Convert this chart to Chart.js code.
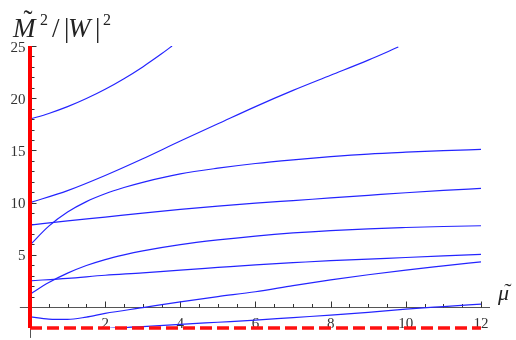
<!DOCTYPE html>
<html>
<head>
<meta charset="utf-8">
<script src="https://cdn.jsdelivr.net/npm/chart.js@4/dist/chart.umd.min.js"></script>
<style>
  html, body { margin: 0; padding: 0; background: #fff; }
  #wrap { width: 516px; height: 340px; position: relative; }
</style>
</head>
<body>
<div id="wrap"><canvas id="c"></canvas></div>
<script>
// Mass branches M~^2/|W|^2 as functions of mu~
const branch1X = [0, 0.5, 1, 1.5, 2, 2.5, 3, 3.5, 3.78];
const branch1Y = [18.0, 18.54, 19.19, 19.97, 20.86, 21.87, 23.0, 24.25, 25.0];

const branch2X = [0, 1, 2, 3, 4, 5, 6, 7, 8, 9, 9.8];
const branch2Y = [10.0, 11.15, 12.6, 14.2, 15.9, 17.55, 19.2, 20.75, 22.2, 23.65, 24.9];

const branch3X = [0, 0.5, 1, 1.5, 2, 2.5, 3, 4, 5, 6, 7, 8, 9, 10, 11, 12];
const branch3Y = [5.94, 7.75, 9.1, 10.1, 10.85, 11.45, 11.95, 12.75, 13.3, 13.75, 14.1, 14.4, 14.65, 14.83, 14.98, 15.1];

const branch4X = [0, 1, 2, 3, 4, 5, 6, 7, 8, 9, 10, 11, 12];
const branch4Y = [7.85, 8.25, 8.62, 9.0, 9.35, 9.67, 9.95, 10.2, 10.45, 10.7, 10.95, 11.17, 11.37];

const branch5X = [0, 0.5, 1, 1.5, 2, 2.5, 3, 4, 5, 6, 7, 8, 9, 10, 11, 12];
const branch5Y = [1.24, 2.35, 3.25, 3.98, 4.55, 5.0, 5.38, 5.98, 6.43, 6.8, 7.1, 7.33, 7.5, 7.62, 7.72, 7.79];

const branch6X = [0, 1, 2, 3, 4, 5, 6, 7, 8, 9, 10, 11, 12];
const branch6Y = [2.52, 2.75, 3.05, 3.28, 3.55, 3.8, 4.05, 4.25, 4.45, 4.6, 4.75, 4.9, 5.05];

const branch7X = [0, 0.5, 1, 1.5, 2, 3, 4, 5, 6, 7, 8, 9, 10, 11, 12];
const branch7Y = [-0.93, -1.15, -1.18, -0.95, -0.6, -0.05, 0.5, 1.0, 1.47, 2.05, 2.6, 3.1, 3.55, 3.95, 4.34];

const branch8X = [0, 1, 2, 3, 4, 5, 6, 7, 8, 9, 10, 11, 12];
const branch8Y = [-2.6, -2.3, -2.05, -1.87, -1.65, -1.45, -1.25, -1.0, -0.77, -0.5, -0.2, 0.05, 0.29];

// Red boundary: solid wall at mu~ = 0, dashed floor at M~^2/|W|^2 = -2
const wallX = [0, 0];
const wallY = [-2, 25];
const floorX = [0, 12];
const floorY = [-2, -2];

// Axis ticks
const xTickValues = [2, 4, 6, 8, 10, 12];
const yTickValues = [5, 10, 15, 20, 25];
const xMinorStep = 0.5;
const yMinorStep = 1;

const pts = (xs, ys) => xs.map((v, i) => ({ x: v, y: ys[i] }));

const blue = '#2424ff';
const branches = [
  [branch1X, branch1Y], [branch2X, branch2Y], [branch3X, branch3Y], [branch4X, branch4Y],
  [branch5X, branch5Y], [branch6X, branch6Y], [branch7X, branch7Y], [branch8X, branch8Y]
].map(([xs, ys]) => ({
  data: pts(xs, ys),
  borderColor: blue,
  borderWidth: 1.2,
  cubicInterpolationMode: 'monotone',
  pointRadius: 0,
  fill: false
}));

const serif = '"Liberation Serif", "Times New Roman", serif';

// Axes crossing at the origin, with major/minor ticks and labels
const originAxes = {
  id: 'originAxes',
  beforeDatasetsDraw(chart) {
    const { ctx, scales: { x, y } } = chart;
    const x0 = Math.round(x.getPixelForValue(0)) + 0.5;
    const y0 = Math.round(y.getPixelForValue(0)) + 0.5;
    ctx.save();
    ctx.strokeStyle = '#555';
    ctx.lineWidth = 1;
    ctx.beginPath();
    ctx.moveTo(x.getPixelForValue(-0.27), y0);
    ctx.lineTo(x.getPixelForValue(12.24), y0);
    ctx.moveTo(x0, y.getPixelForValue(25));
    ctx.lineTo(x0, y.getPixelForValue(-2.95));
    ctx.stroke();

    ctx.strokeStyle = '#333';
    ctx.beginPath();
    for (let v = xMinorStep; v <= 12 + 1e-9; v += xMinorStep) {
      const px = Math.round(x.getPixelForValue(v)) + 0.5;
      const len = Math.abs(v % 2) < 1e-9 ? 6 : 3.5;
      ctx.moveTo(px, y0);
      ctx.lineTo(px, y0 - len);
    }
    for (let v = yMinorStep; v <= 25 + 1e-9; v += yMinorStep) {
      const py = Math.round(y.getPixelForValue(v)) + 0.5;
      const len = Math.abs(v % 5) < 1e-9 ? 6 : 4;
      ctx.moveTo(x0, py);
      ctx.lineTo(x0 + len, py);
    }
    ctx.stroke();

    ctx.fillStyle = '#333';
    ctx.font = '15px ' + serif;
    ctx.textAlign = 'center';
    ctx.textBaseline = 'alphabetic';
    xTickValues.forEach(v => {
      ctx.fillText(String(v), x.getPixelForValue(v), y0 + 20);
    });
    ctx.textAlign = 'right';
    yTickValues.forEach(v => {
      ctx.fillText(String(v), x0 - 5, y.getPixelForValue(v) + 5.5);
    });
    ctx.restore();
  },
  afterDraw(chart) {
    const { ctx } = chart;
    ctx.save();
    ctx.fillStyle = '#222';
    ctx.textBaseline = 'alphabetic';
    ctx.textAlign = 'left';
    // vertical axis title: M~^2 / |W|^2
    ctx.font = 'italic 27px ' + serif;
    ctx.fillText('M', 13, 37);
    ctx.fillText('W', 68, 37);
    ctx.font = '27px ' + serif;
    ctx.textAlign = 'center';
    ctx.fillText('\u02DC', 28, 29);
    ctx.textAlign = 'left';
    ctx.fillText('/', 52, 37);
    ctx.fillText('|', 64, 37);
    ctx.fillText('|', 95, 37);
    ctx.font = '16px ' + serif;
    ctx.fillText('2', 40, 25);
    ctx.fillText('2', 103, 25);
    // horizontal axis title: mu~
    ctx.font = 'italic 22px ' + serif;
    ctx.fillText('\u03BC', 498, 300);
    ctx.font = '22px ' + serif;
    ctx.textAlign = 'center';
    ctx.fillText('\u02DC', 508, 298);
    ctx.restore();
  }
};

new Chart(document.getElementById('c'), {
  type: 'line',
  data: {
    datasets: [
      { data: pts(wallX, wallY), borderColor: '#ff0000', borderWidth: 4, pointRadius: 0, clip: false },
      { data: pts(floorX, floorY), borderColor: '#ff1010', borderWidth: 3.5, borderDash: [12, 5], pointRadius: 0, clip: false },
      ...branches
    ]
  },
  options: {
    responsive: true,
    maintainAspectRatio: false,
    animation: false,
    layout: { padding: { left: 30, right: 26, top: 46, bottom: 12 } },
    scales: {
      x: { type: 'linear', min: 0, max: 12.24, display: false },
      y: { type: 'linear', min: -2, max: 25, display: false }
    },
    plugins: { legend: { display: false }, tooltip: { enabled: false } },
    elements: { line: { tension: 0 } }
  },
  plugins: [originAxes]
});
</script>
</body>
</html>
